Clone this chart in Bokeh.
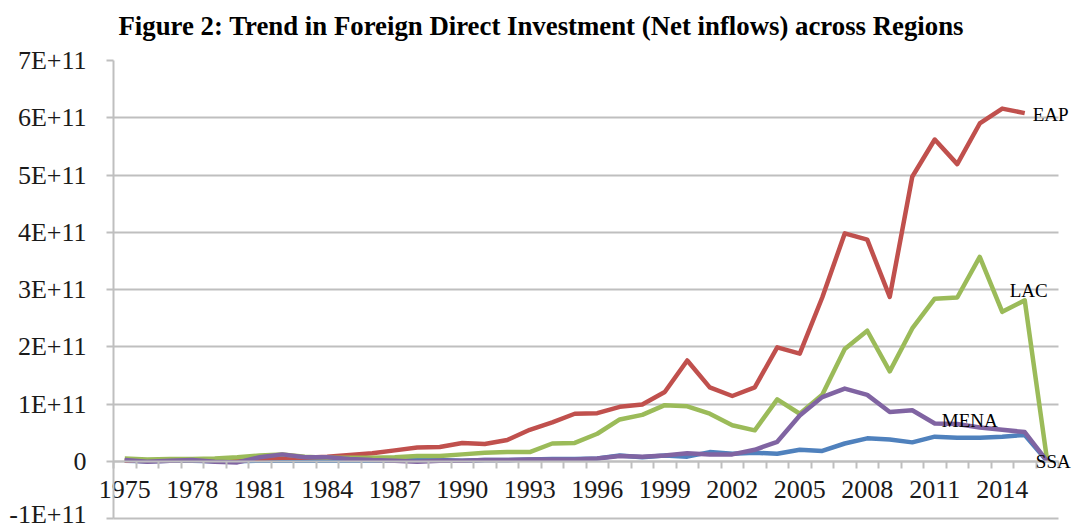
import numpy as np
from bokeh.plotting import figure
from bokeh.models import Range1d, FixedTicker, LinearAxis, Label, ColumnDataSource
from bokeh.embed import file_html
from bokeh.resources import INLINE

years = list(range(1975, 2017))
SCALE = 1e11
eap = [0.01, 0.01, 0.02, 0.02, 0.03, 0.03, 0.05, 0.06, 0.06, 0.08,
       0.11, 0.14, 0.19, 0.24, 0.25, 0.32, 0.30, 0.37, 0.55, 0.68,
       0.83, 0.84, 0.95, 0.99, 1.21, 1.76, 1.29, 1.14, 1.29, 1.99,
       1.88, 2.86, 3.98, 3.87, 2.87, 4.97, 5.62, 5.19, 5.90, 6.16,
       6.08, np.nan]
lac = [0.05, 0.03, 0.04, 0.04, 0.05, 0.07, 0.10, 0.12, 0.08, 0.06,
       0.06, 0.06, 0.07, 0.09, 0.09, 0.12, 0.15, 0.16, 0.16, 0.31,
       0.32, 0.48, 0.73, 0.81, 0.98, 0.96, 0.83, 0.63, 0.54, 1.08,
       0.83, 1.16, 1.96, 2.28, 1.57, 2.32, 2.84, 2.86, 3.57, 2.61,
       2.81, 0.0]
mena = [0.02, -0.01, 0.01, 0.02, -0.01, -0.02, 0.07, 0.12, 0.07, 0.07,
        0.04, 0.02, 0.01, -0.01, 0.01, 0.01, 0.02, 0.02, 0.03, 0.03,
        0.03, 0.05, 0.09, 0.08, 0.10, 0.14, 0.12, 0.12, 0.20, 0.34,
        0.80, 1.12, 1.27, 1.16, 0.86, 0.89, 0.66, 0.65, 0.59, 0.55,
        0.51, 0.0]
ssa = [0.01, 0.00, 0.01, 0.01, 0.00, 0.00, 0.01, 0.01, 0.01, 0.01,
       0.01, 0.01, 0.01, 0.02, 0.02, 0.01, 0.02, 0.02, 0.03, 0.04,
       0.04, 0.05, 0.10, 0.07, 0.10, 0.08, 0.16, 0.13, 0.15, 0.13,
       0.20, 0.18, 0.31, 0.40, 0.38, 0.33, 0.43, 0.41, 0.41, 0.43,
       0.46, 0.0]

y_ticks = [-1e11, 0, 1e11, 2e11, 3e11, 4e11, 5e11, 6e11, 7e11]
y_tick_labels = ["-1E+11", "0", "1E+11", "2E+11", "3E+11", "4E+11", "5E+11", "6E+11", "7E+11"]
x_label_years = list(range(1975, 2017, 3))

FONT = "Liberation Serif"
GRAY = "#bfbfbf"

x0, x1 = years[0] - 0.5, years[-1] + 0.5          # category edges
PX_PER_YEAR = 945 / (x1 - x0)
PX_PER_UNIT = 458 / (y_ticks[-1] - y_ticks[0])

p = figure(width=1074, height=528, output_backend="svg", toolbar_location=None,
           x_range=Range1d(x0 - 113 / PX_PER_YEAR, x1 + 16 / PX_PER_YEAR),
           y_range=Range1d(y_ticks[0] - 10 / PX_PER_UNIT, y_ticks[-1] + 16 / PX_PER_UNIT),
           min_border_left=0, min_border_right=0, min_border_top=44,
           min_border_bottom=0, x_axis_location=None, y_axis_location=None)
p.outline_line_color = None
p.background_fill_color = "white"
p.border_fill_color = "white"

p.title.text = "Figure 2: Trend in Foreign Direct Investment (Net inflows) across Regions"
p.title.text_font = FONT
p.title.text_font_style = "bold"
p.title.text_font_size = "26.8px"
p.title.text_color = "black"
p.title.align = "left"
p.title.offset = 118
p.title.standoff = 8

yaxis = LinearAxis(ticker=FixedTicker(ticks=y_ticks, minor_ticks=[]),
                   fixed_location=x0, bounds=(y_ticks[0], y_ticks[-1]))
yaxis.major_label_overrides = {int(t): s for t, s in zip(y_ticks, y_tick_labels)}
yaxis.axis_line_color = GRAY
yaxis.axis_line_width = 2
yaxis.major_tick_line_color = GRAY
yaxis.major_tick_line_width = 2
yaxis.major_tick_out = 7
yaxis.major_tick_in = 0
yaxis.minor_tick_line_color = None
yaxis.major_label_standoff = 20
yaxis.major_label_text_font = FONT
yaxis.major_label_text_font_size = "26px"
yaxis.major_label_text_color = "#1a1a1a"
p.add_layout(yaxis, "left")

half_years = [y - 0.5 for y in years] + [years[-1] + 0.5]
xaxis = LinearAxis(ticker=FixedTicker(ticks=x_label_years, minor_ticks=half_years),
                   fixed_location=0, bounds=(x0, x1))
xaxis.axis_line_color = GRAY
xaxis.axis_line_width = 2
xaxis.major_tick_line_color = None
xaxis.major_tick_out = 0
xaxis.major_tick_in = 0
xaxis.minor_tick_line_color = GRAY
xaxis.minor_tick_line_width = 2
xaxis.minor_tick_out = 7
xaxis.minor_tick_in = 0
xaxis.major_label_standoff = 13
xaxis.major_label_text_font = FONT
xaxis.major_label_text_font_size = "26px"
xaxis.major_label_text_color = "#1a1a1a"
xaxis.major_label_overrides = {y: str(y) for y in x_label_years}
p.add_layout(xaxis, "below")

p.xgrid.visible = False
p.ygrid.ticker = FixedTicker(ticks=y_ticks[:-1])
p.ygrid.cross_bounds = (x0, x1)
p.ygrid.grid_line_color = GRAY
p.ygrid.grid_line_width = 2

src = ColumnDataSource(dict(year=years,
                            eap=[v * SCALE for v in eap],
                            lac=[v * SCALE for v in lac],
                            mena=[v * SCALE for v in mena],
                            ssa=[v * SCALE for v in ssa]))

series = [("ssa", "#4F81BD"), ("eap", "#C0504D"), ("lac", "#9BBB59"), ("mena", "#8064A2")]
for key, col in series:
    p.line("year", key, source=src, line_color=col, line_width=4.5, line_join="round")

lab_kw = dict(text_font=FONT, text_font_size="19px", text_color="black", text_baseline="middle")
p.add_layout(Label(x=years[-2], y=eap[-2] * SCALE, text="EAP", x_offset=8, y_offset=-1,
                   text_align="left", **lab_kw))
p.add_layout(Label(x=years[-2], y=lac[-2] * SCALE, text="LAC", x_offset=4, y_offset=10,
                   text_align="center", **lab_kw))
p.add_layout(Label(x=years[-4], y=mena[-4] * SCALE, text="MENA", x_offset=-10, y_offset=7,
                   text_align="center", **lab_kw))
p.add_layout(Label(x=years[-1], y=ssa[-1] * SCALE, text="SSA", x_offset=6, y_offset=0,
                   text_align="center", **lab_kw))

open("out.html", "w").write(file_html(p, INLINE))
